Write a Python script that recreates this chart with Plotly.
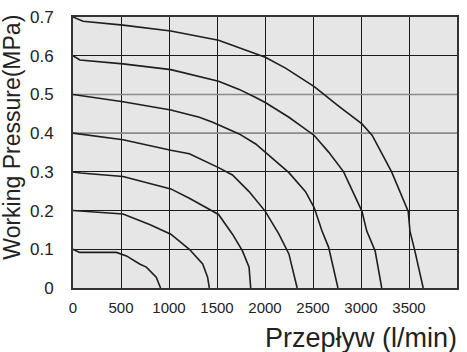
import plotly.graph_objects as go

# Flow characteristic curves (x: flow l/min, y: working pressure MPa)
flow_07 = [0, 104, 521, 1019, 1516, 1731, 2003, 2214, 2513, 2767, 3010, 3117, 3251, 3319, 3492, 3510, 3561, 3648]
pres_07 = [0.70, 0.689, 0.679, 0.664, 0.640, 0.621, 0.596, 0.568, 0.520, 0.470, 0.424, 0.394, 0.334, 0.300, 0.198, 0.147, 0.096, 0.0]

flow_06 = [0, 72, 521, 1019, 1516, 1731, 1903, 2003, 2249, 2513, 2663, 2819, 3010, 3060, 3147, 3216]
pres_06 = [0.60, 0.589, 0.579, 0.564, 0.534, 0.513, 0.492, 0.479, 0.441, 0.394, 0.351, 0.300, 0.198, 0.147, 0.096, 0.0]

flow_05 = [0, 521, 1019, 1316, 1455, 1731, 1903, 2003, 2249, 2422, 2513, 2594, 2663, 2760]
pres_05 = [0.50, 0.481, 0.460, 0.441, 0.428, 0.398, 0.372, 0.351, 0.298, 0.249, 0.207, 0.147, 0.105, 0.0]

flow_04 = [0, 521, 1019, 1212, 1516, 1661, 1834, 2003, 2145, 2249, 2335]
pres_04 = [0.40, 0.383, 0.356, 0.347, 0.311, 0.292, 0.249, 0.198, 0.139, 0.088, 0.0]

flow_03 = [0, 80, 521, 1019, 1212, 1516, 1661, 1765, 1834, 1851]
pres_03 = [0.30, 0.297, 0.288, 0.256, 0.232, 0.190, 0.139, 0.096, 0.054, 0.0]

flow_02 = [0, 521, 798, 1019, 1212, 1351, 1402, 1420]
pres_02 = [0.20, 0.191, 0.164, 0.139, 0.100, 0.062, 0.028, 0.0]

flow_01 = [0, 70, 453, 557, 694, 764, 867, 912]
pres_01 = [0.10, 0.092, 0.092, 0.083, 0.062, 0.054, 0.028, 0.0]

x_ticks = [0, 500, 1000, 1500, 2000, 2500, 3000, 3500, 4000]
y_ticks = [0, 0.1, 0.2, 0.3, 0.4, 0.5, 0.6, 0.7]
y_tick_text = ["0", "0.1", "0.2", "0.3", "0.4", "0.5", "0.6", "0.7"]
gray_levels = [0.4, 0.5]

x_title = "Przepływ (l/min)"
y_title = "Working Pressure(MPa)"

fig = go.Figure()

# gray reference lines at 0.4 and 0.5 (drawn over the black grid)
for g in gray_levels:
    fig.add_trace(go.Scatter(x=[0, 4000], y=[g, g], mode="lines",
                             line=dict(color="#8a8a8a", width=1.6),
                             hoverinfo="skip", showlegend=False))

for fx, py in [(flow_07, pres_07), (flow_06, pres_06), (flow_05, pres_05),
               (flow_04, pres_04), (flow_03, pres_03), (flow_02, pres_02),
               (flow_01, pres_01)]:
    fig.add_trace(go.Scatter(x=fx, y=py, mode="lines",
                             line=dict(color="#1e1e1e", width=1.6),
                             showlegend=False))

fig.update_layout(
    width=467, height=352,
    margin=dict(l=73, r=8, t=13, b=64),
    paper_bgcolor="white",
    plot_bgcolor="#e6e6e6",
    font=dict(family="Liberation Sans, Arial, sans-serif", color="#222222", size=15),
    xaxis=dict(range=[0, 4000], tickvals=x_ticks, showgrid=True,
               gridcolor="#1a1a1a", gridwidth=1.4, zeroline=False,
               showline=True, linecolor="#333333", linewidth=2, mirror=True,
               ticks="", tickfont=dict(size=15), ticklabelstandoff=5),
    yaxis=dict(range=[0, 0.7], tickvals=y_ticks, ticktext=y_tick_text, showgrid=True,
               gridcolor="#1a1a1a", gridwidth=1.4, zeroline=False,
               showline=True, linecolor="#333333", linewidth=2, mirror=True,
               ticks="", tickfont=dict(size=17), ticklabelstandoff=14),
    annotations=[
        dict(text=y_title, xref="paper", yref="paper", x=-0.158, y=0.556,
             xanchor="center", yanchor="middle", textangle=-90, showarrow=False,
             font=dict(size=23, color="#222222")),
        dict(text=x_title, xref="paper", yref="paper", x=1.005, y=-0.185,
             xanchor="right", yanchor="middle", showarrow=False,
             font=dict(size=27, color="#222222")),
    ],
)

fig.write_html("out.html")
